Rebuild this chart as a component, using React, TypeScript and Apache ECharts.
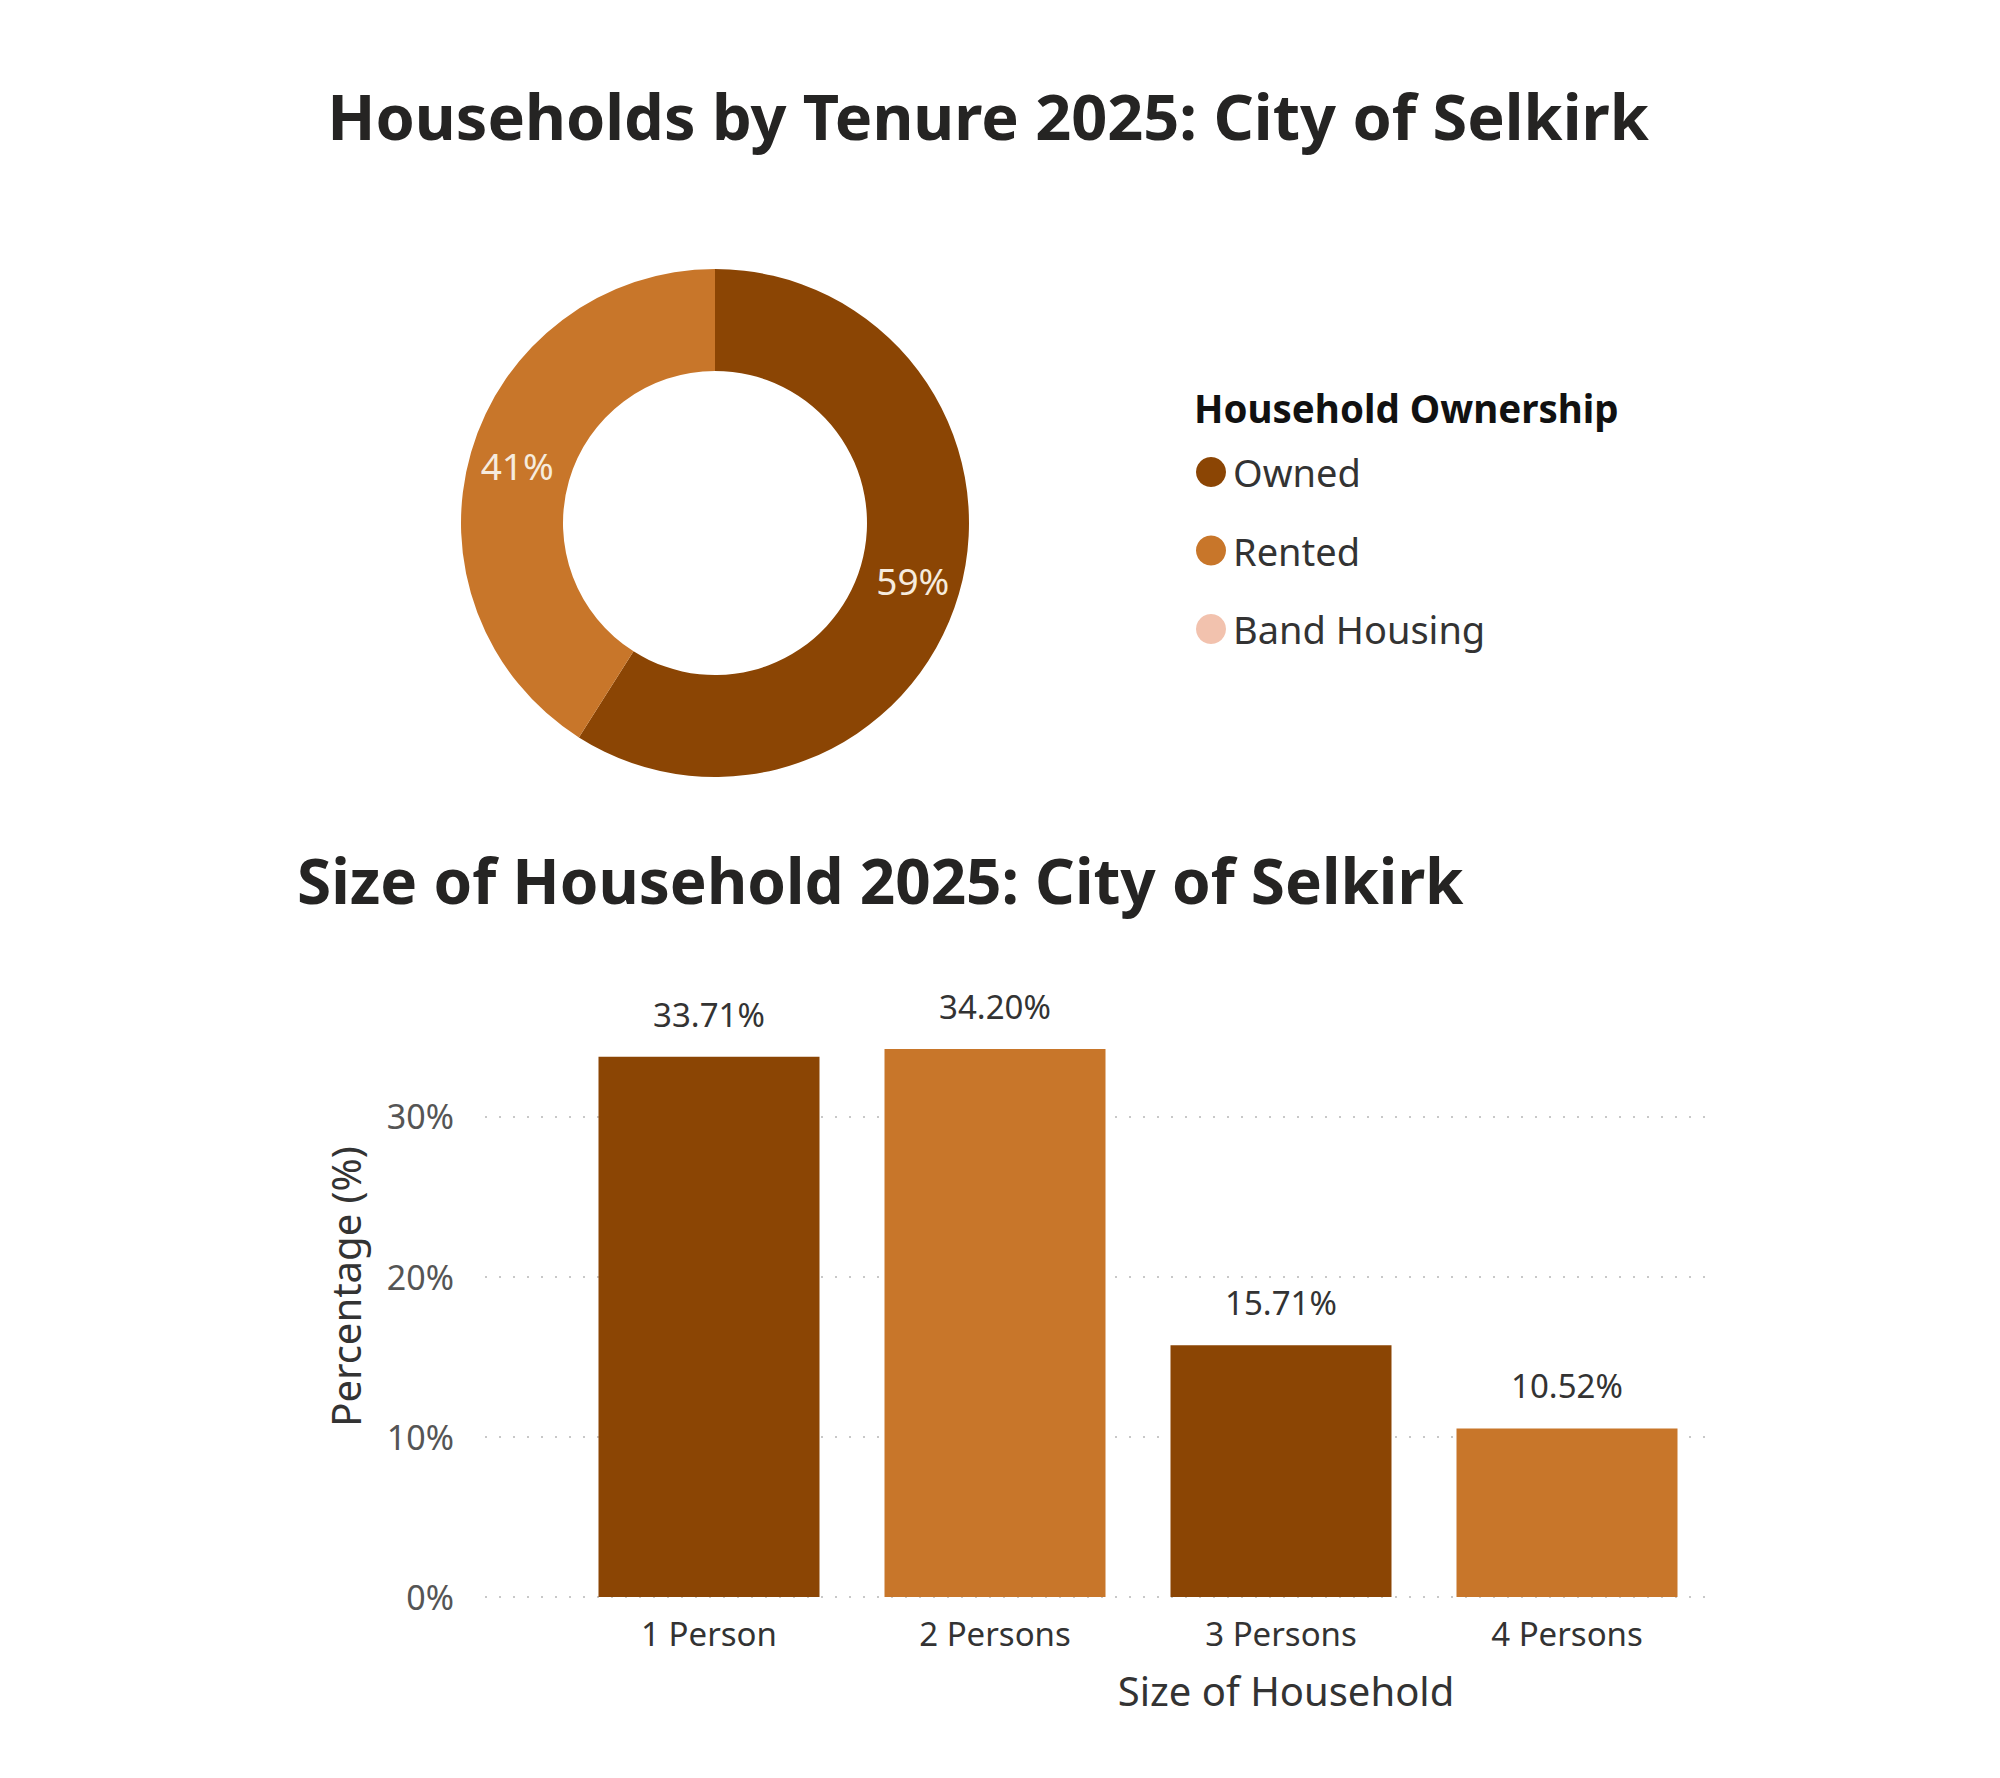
import React, { useEffect, useRef } from "react";
import * as echarts from "echarts";

const tenureCategories = ["Owned", "Rented", "Band Housing"];
const tenureValues = [59, 41, 0];
const tenureColors = ["#8B4504", "#C8762A", "#F2C2AE"];

const sizeCategories = ["1 Person", "2 Persons", "3 Persons", "4 Persons"];
const sizeValues = [33.71, 34.2, 15.71, 10.52];
const barColors = ["#8B4504", "#C8762A", "#8B4504", "#C8762A"];

const title1 = "Households by Tenure 2025: City of Selkirk";
const title2 = "Size of Household 2025: City of Selkirk";
const legendTitle = "Household Ownership";
const yAxisTitle = "Percentage (%)";
const xAxisTitle = "Size of Household";

const SANS = "'Noto Sans', 'Open Sans', sans-serif";

export default function App() {
  const ref = useRef<HTMLDivElement>(null);
  useEffect(() => {
    document.body.style.margin = "0";
    if (!ref.current) return;
    const chart = echarts.init(ref.current, undefined, { renderer: "svg" });
    const option: any = {
      animation: false,
      backgroundColor: "#ffffff",
      graphic: [
        {
          type: "text",
          x: 988,
          y: 115,
          style: {
            text: title1,
            align: "center",
            verticalAlign: "middle",
            fontFamily: SANS,
            fontWeight: "bold",
            fontSize: 63,
            fill: "#252423",
          },
        },
        {
          type: "text",
          x: 297,
          y: 880,
          style: {
            text: title2,
            align: "left",
            verticalAlign: "middle",
            fontFamily: SANS,
            fontWeight: "bold",
            fontSize: 62,
            fill: "#252423",
          },
        },
        {
          type: "text",
          x: 1194,
          y: 408,
          style: {
            text: legendTitle,
            align: "left",
            verticalAlign: "middle",
            fontFamily: SANS,
            fontWeight: "bold",
            fontSize: 38.5,
            fill: "#111111",
          },
        },
        {
          type: "text",
          x: 1286,
          y: 1690,
          style: {
            text: xAxisTitle,
            align: "center",
            verticalAlign: "middle",
            fontFamily: SANS,
            fontSize: 40,
            fill: "#333333",
          },
        },
      ],
      legend: {
        data: tenureCategories,
        orient: "vertical",
        left: 1191,
        top: 447,
        icon: "circle",
        itemWidth: 30,
        itemHeight: 30,
        itemGap: 38.5,
        selectedMode: false,
        textStyle: {
          fontFamily: SANS,
          fontSize: 38,
          lineHeight: 40,
          color: "#333333",
          padding: [0, 0, 0, 2],
        },
      },
      grid: [
        { left: 485, top: 956, width: 1231, height: 641 },
        { left: 566, top: 956, width: 1144, height: 641 },
      ],
      xAxis: [
        { gridIndex: 0, type: "value", show: false, min: 0, max: 1 },
        {
          gridIndex: 1,
          type: "category",
          data: sizeCategories,
          axisLine: { show: false },
          axisTick: { show: false },
          axisLabel: {
            color: "#333333",
            fontFamily: SANS,
            fontSize: 33,
            margin: 20,
          },
        },
      ],
      yAxis: [
        {
          gridIndex: 0,
          type: "value",
          min: 0,
          max: 40,
          interval: 10,
          axisLine: { show: false },
          axisTick: { show: false },
          axisLabel: {
            formatter: "{value}%",
            showMaxLabel: false,
            margin: 31,
            fontFamily: SANS,
            fontSize: 34,
            color: "#555555",
          },
          splitLine: {
            show: true,
            showMaxLine: false,
            lineStyle: { type: [2, 12], color: "#c8c8c8", width: 2 },
          },
          name: yAxisTitle,
          nameLocation: "middle",
          nameGap: 120,
          nameRotate: 90,
          nameTextStyle: {
            fontFamily: SANS,
            fontSize: 40,
            color: "#333333",
            padding: [0, 20, 0, 0],
          },
        },
        {
          gridIndex: 1,
          type: "value",
          min: 0,
          max: 40,
          interval: 10,
          show: false,
          splitLine: { show: false },
        },
      ],
      series: [
        {
          type: "pie",
          center: [715, 523],
          radius: [152, 254],
          startAngle: 90,
          clockwise: true,
          avoidLabelOverlap: false,
          labelLine: { show: false },
          label: {
            show: true,
            position: "inside",
            formatter: (p: any) => (p.value ? Math.round(p.percent) + "%" : ""),
            color: "#F6EBDD",
            fontFamily: SANS,
            fontSize: 37,
          },
          emphasis: { disabled: true },
          data: tenureCategories.map((name, i) => ({
            name,
            value: tenureValues[i],
            itemStyle: { color: tenureColors[i] },
          })),
        },
        {
          type: "bar",
          xAxisIndex: 1,
          yAxisIndex: 1,
          barWidth: 221,
          data: sizeValues.map((v, i) => ({
            value: v,
            itemStyle: { color: barColors[i] },
          })),
          label: {
            show: true,
            position: "top",
            distance: 26,
            formatter: (p: any) => p.value.toFixed(2) + "%",
            fontFamily: SANS,
            fontSize: 33,
            color: "#333333",
          },
        },
      ],
    };
    chart.setOption(option);
    return () => chart.dispose();
  }, []);
  return <div ref={ref} style={{ width: 2000, height: 1778 }} />;
}
